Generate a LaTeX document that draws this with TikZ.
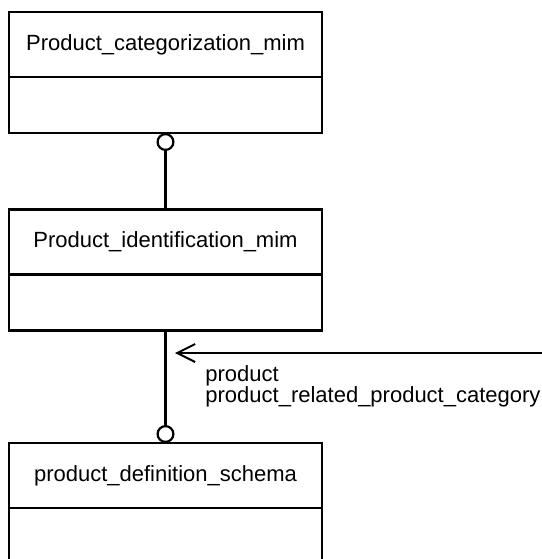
\documentclass[tikz,border=0pt]{standalone}
\usepackage{fontspec}
\setmainfont{Liberation Sans}
\usetikzlibrary{positioning,arrows.meta}
\tikzset{
	schemahead/.style={draw, line width=1.25pt, minimum width=156.5pt, minimum height=32.5pt, inner sep=0pt, outer sep=0pt, font=\fontsize{11}{13}\selectfont},
	schemabody/.style={draw, line width=1.25pt, minimum width=156.5pt, minimum height=28pt, inner sep=0pt, outer sep=0pt},
	link/.style={line width=1.1pt},
	lbl/.style={inner sep=0pt, font=\fontsize{11}{13}\selectfont},
}
\begin{document}
\begin{tikzpicture}[x=0.5pt,y=-0.5pt]
		\useasboundingbox (0,0) rectangle (542,559);
		\clip (0,0) rectangle (542,559);
		\node[schemahead] (cathead) at (165.5,44.5) {Product\_categorization\_mim};
		\node[schemabody, below=0pt of cathead] (catbody) {};
		\node[schemahead] (idhead) at (165.5,242) {Product\_identification\_mim};
		\node[schemabody, below=0pt of idhead] (idbody) {};
		\node[schemahead] (defhead) at (165.5,475.5) {product\_definition\_schema};
		\node[schemabody, below=0pt of defhead, minimum height=45pt] (defbody) {};
		\draw[link, {Circle[open, length=9pt, width=9pt]}-] (catbody.south) -- (idhead.north);
		\draw[link, -{Circle[open, length=9pt, width=9pt]}] (idbody.south) -- (defhead.north);
		\coordinate (srcend) at (545,353);
		\coordinate (tipend) at (175,353);
		\draw[line width=1pt, -{Straight Barb[length=9pt, width=9pt]}] (srcend) -- (tipend);
		\node[lbl, anchor=base west] (rolefirst) at (205,381) {product};
		\node[lbl, anchor=base west] (rolesecond) at (205,402) {product\_related\_product\_category};
\end{tikzpicture}
\end{document}
